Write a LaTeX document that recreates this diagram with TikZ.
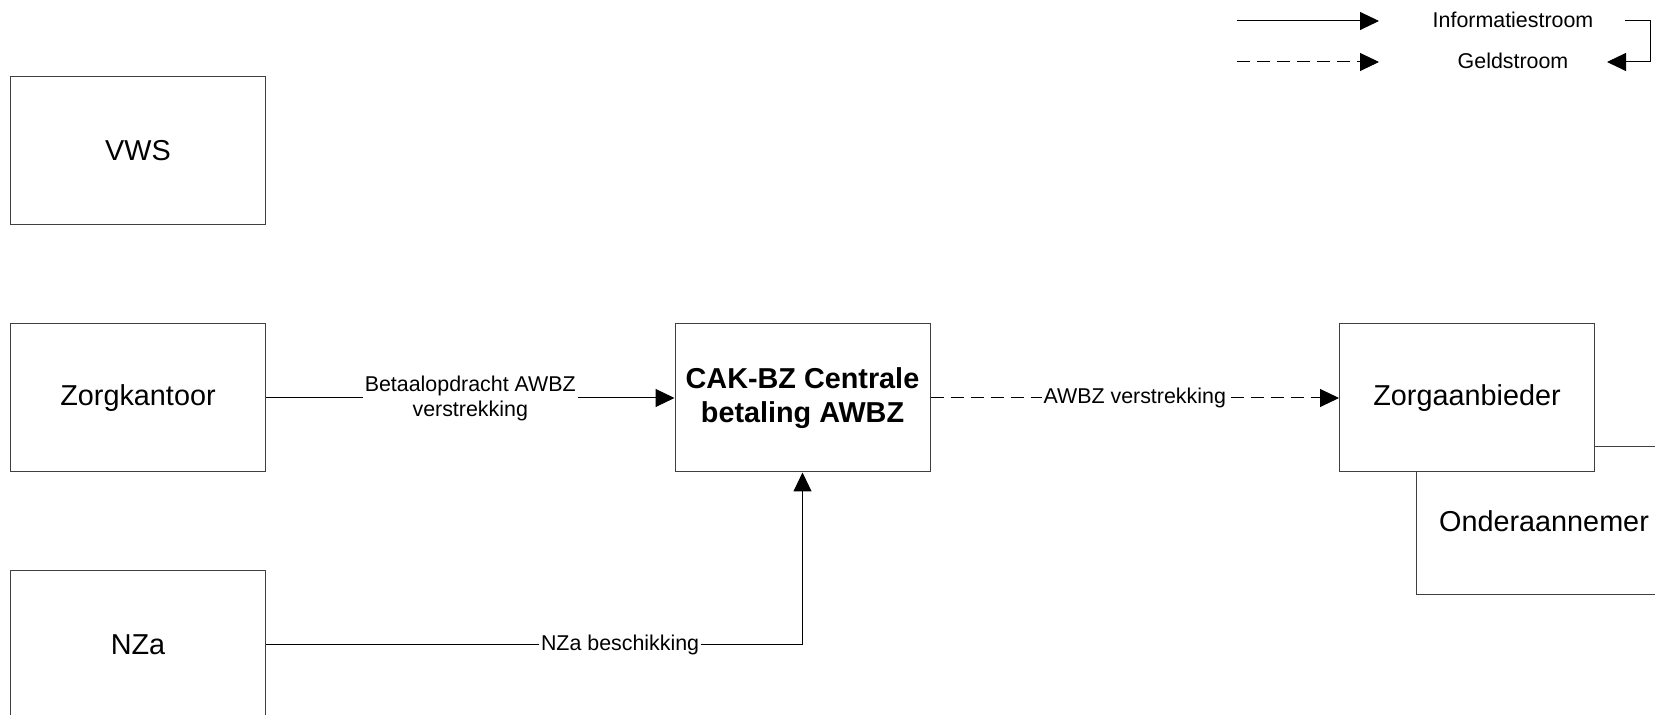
\documentclass[tikz,border=0pt]{standalone}
\usepackage{fontspec}
\setmainfont{Liberation Sans}
\usetikzlibrary{positioning,arrows.meta}

\begin{document}
\begin{tikzpicture}[
    x=0.5pt, y=-0.5pt,
    node distance=49pt and 204.25pt,
    every node/.style={font=\fontsize{10.7}{12.5}\selectfont},
    box/.style={draw=black!75, fill=white, line width=0.5pt, align=center, minimum width=127.5pt, minimum height=74pt, font=\fontsize{14.4}{17.3}\selectfont},
    lbl/.style={fill=white, inner sep=1pt, align=center},
    infopijl/.style={-{Triangle[length=9.5pt, width=9pt]}, line width=0.5pt},
    geldpijl/.style={infopijl, dash pattern=on 6.5pt off 3.5pt}
  ]
    \clip (0,0) rectangle (1655,715);

    % subcontractor lies behind the care provider
    \node[box] (onderaannemer) at (1544,521) {Onderaannemer};

    \node[box] (zorgkantoor) at (138,398) {Zorgkantoor};
    \node[box, above=of zorgkantoor] (vws) {VWS};
    \node[box, below=of zorgkantoor] (nza) {NZa};
    \node[box, right=of zorgkantoor] (cak) {\bfseries CAK-BZ Centrale\\\bfseries betaling AWBZ};
    \node[box, right=of cak] (zorgaanbieder) {Zorgaanbieder};

    \draw[infopijl] (zorgkantoor.east) -- node[lbl] {Betaalopdracht AWBZ\\verstrekking} (cak.west);
    \draw[geldpijl] (cak.east) -- node[lbl] {AWBZ verstrekking} (zorgaanbieder.west);
    \draw[infopijl] (nza.east) -| node[lbl, pos=0.33] {NZa beschikking} (cak.south);

    % legend
    \node (info) at (1513,20) {Informatiestroom};
    \node (geld) at (1513,61) {Geldstroom};
    \coordinate (infoA) at (1237,21);
    \coordinate (infoB) at (1379,21);
    \coordinate (geldA) at (1237,62);
    \coordinate (geldB) at (1379,62);
    \coordinate (lusA) at (1625,21);
    \coordinate (lusB) at (1607,62);
    \draw[infopijl] (infoA) -- (infoB);
    \draw[geldpijl] (geldA) -- (geldB);
    \draw[infopijl] (lusA) -| ++(25,41) -- (lusB);
  \end{tikzpicture}
\end{document}
